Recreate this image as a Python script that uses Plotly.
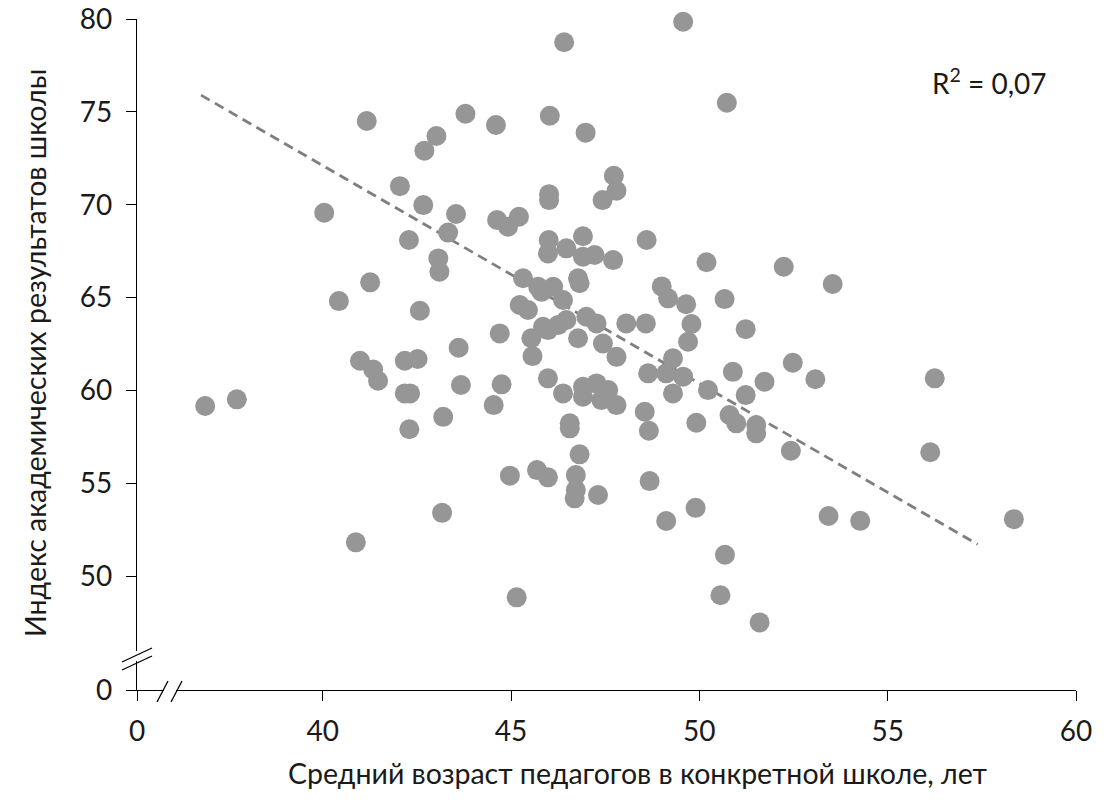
import plotly.graph_objects as go

# ---- data ----
age = [41.17, 42.05, 42.67, 40.04, 43.02, 42.70, 46.41, 43.79, 44.60, 46.03,
       46.98, 47.73, 47.80, 47.43, 46.01, 46.01, 43.54, 44.63, 45.21, 44.92,
       43.33, 49.57, 50.73,
       42.29, 41.26, 40.43, 42.58, 40.99, 41.34, 41.47, 42.18, 42.52, 42.18,
       42.32, 42.30, 36.88, 37.72, 40.88,
       43.07, 43.10, 46.00, 45.98, 46.47, 46.91, 46.91, 47.22, 47.71, 45.32,
       45.72, 45.81, 46.12, 46.38, 46.78, 46.82, 45.23, 45.45, 44.70, 45.85,
       45.98, 46.25, 46.47, 45.54, 45.57, 46.78, 47.00, 47.27, 47.44, 47.80,
       48.06, 43.61, 43.67, 44.75, 44.54, 43.20, 45.98, 46.38, 46.91, 46.91,
       47.27, 47.40, 47.58, 47.80, 46.56, 46.56,
       48.60, 50.19, 52.24, 49.00, 49.17, 49.65, 50.67, 49.79, 49.70, 51.23,
       48.58, 49.30, 48.64, 49.12, 49.57, 49.30, 50.23, 50.89, 51.73, 51.23,
       52.48, 53.08, 48.55, 48.66, 49.92, 50.80, 50.98, 51.51, 51.51, 52.43,
       53.54, 56.25, 56.13,
       46.82, 44.97, 45.69, 45.98, 46.72, 46.72, 46.69, 47.31, 43.17, 45.15,
       48.68, 49.90, 49.12, 50.68, 50.56, 51.60,
       53.43, 54.27, 58.35]

index = [74.51, 71.00, 69.98, 69.57, 73.70, 72.91, 78.75, 74.90, 74.29, 74.79,
         73.88, 71.56, 70.75, 70.25, 70.57, 70.25, 69.50, 69.18, 69.35, 68.82,
         68.50, 79.85, 75.49,
         68.10, 65.82, 64.81, 64.29, 61.60, 61.13, 60.52, 61.60, 61.69, 59.84,
         59.84, 57.91, 59.16, 59.52, 51.82,
         67.11, 66.39, 68.10, 67.38, 67.65, 68.30, 67.20, 67.29, 67.02, 66.04,
         65.58, 65.31, 65.58, 64.87, 66.04, 65.77, 64.60, 64.33, 63.07, 63.43,
         63.25, 63.52, 63.79, 62.81, 61.85, 62.81, 63.97, 63.61, 62.53, 61.81,
         63.61, 62.30, 60.29, 60.33, 59.21, 58.58, 60.65, 59.84, 60.20, 59.66,
         60.38, 59.48, 60.02, 59.21, 58.23, 57.96,
         68.10, 66.90, 66.66, 65.60, 64.96, 64.64, 64.92, 63.58, 62.62, 63.30,
         63.61, 61.73, 60.92, 60.92, 60.74, 59.84, 60.02, 61.00, 60.47, 59.75,
         61.49, 60.60, 58.85, 57.83, 58.26, 58.68, 58.23, 58.14, 57.69, 56.75,
         65.73, 60.65, 56.67,
         56.56, 55.41, 55.71, 55.32, 55.44, 54.64, 54.19, 54.37, 53.41, 48.86,
         55.12, 53.68, 52.97, 51.15, 48.97, 47.51,
         53.24, 52.98, 53.07]

trend_age = [36.77, 57.39]
trend_index = [75.90, 51.71]

x_tickvals = [35.07, 40, 45, 50, 55, 60]
x_ticktext = ["0", "40", "45", "50", "55", "60"]
y_tickvals = [43.87, 50, 55, 60, 65, 70, 75, 80]
y_ticktext = ["0", "50", "55", "60", "65", "70", "75", "80"]

r2_text = "R<sup>2</sup> = 0,07"
x_title = "Средний возраст педагогов в конкретной школе, лет"
y_title = "Индекс академических результатов школы"

# ---- layout geometry (page pixels; body margin removed in the page) ----
W, H = 1120, 805
PL, PR, PT, PB = 137, 1076, 19, 690          # plot area in page pixels
L, T = PL, PT
R, B = W - PR, H - PB

def px(x):
    return (x - PL) / (PR - PL)

def py(y):
    return (PB - y) / (PB - PT)

FONT = "Lato, 'Open Sans', sans-serif"
TXT = "#1a1a1a"
FS = 28

fig = go.Figure()
fig.add_trace(go.Scatter(
    x=trend_age, y=trend_index, mode="lines",
    line=dict(color="#7f7f7f", width=2.8, dash="10px,6px"),
    hoverinfo="skip", showlegend=False))
fig.add_trace(go.Scatter(
    x=age, y=index, mode="markers", cliponaxis=False,
    marker=dict(size=20, color="#969696", line=dict(width=0)),
    showlegend=False))

shapes = []
# gaps in axis lines
shapes.append(dict(type="rect", xref="paper", yref="paper",
                   x0=px(131), x1=px(143), y0=py(661), y1=py(651),
                   fillcolor="white", line=dict(width=0), layer="above"))
shapes.append(dict(type="rect", xref="paper", yref="paper",
                   x0=px(164), x1=px(176), y0=py(696), y1=py(684),
                   fillcolor="white", line=dict(width=0), layer="above"))
# break marks
for (x0, y0, x1, y1) in [(122, 662, 152, 648), (122, 670, 152, 656),
                         (157, 702, 168, 681), (171, 702, 182, 681)]:
    shapes.append(dict(type="line", xref="paper", yref="paper",
                       x0=px(x0), y0=py(y0), x1=px(x1), y1=py(y1),
                       line=dict(color="black", width=1.3), layer="above"))

fig.update_layout(
    width=W, height=H,
    margin=dict(l=L, r=R, t=T, b=B, autoexpand=False),
    paper_bgcolor="white", plot_bgcolor="white",
    font=dict(family=FONT, size=FS, color=TXT),
    shapes=shapes,
    annotations=[
        dict(text=r2_text, xref="paper", yref="paper",
             x=px(989), y=py(82), xanchor="center", yanchor="middle",
             showarrow=False, font=dict(size=FS, color=TXT, family=FONT)),
        dict(text=x_title, xref="paper", yref="paper",
             x=px(637), y=py(773), xanchor="center", yanchor="middle",
             showarrow=False, font=dict(size=28.5, color=TXT, family=FONT)),
        dict(text=y_title, xref="paper", yref="paper",
             x=px(35), y=py(353), xanchor="center", yanchor="middle",
             showarrow=False, textangle=-90,
             font=dict(size=28.5, color=TXT, family=FONT)),
    ],
    xaxis=dict(range=[35.07, 60], tickmode="array", tickvals=x_tickvals,
               ticktext=x_ticktext, showgrid=False, zeroline=False,
               showline=True, linecolor="black", linewidth=1.3,
               ticks="outside", ticklen=10, tickcolor="black", tickwidth=1.3,
               ticklabelstandoff=6, ticklabeloverflow="allow",
               tickfont=dict(size=FS, color=TXT, family=FONT)),
    yaxis=dict(range=[43.87, 80], tickmode="array", tickvals=y_tickvals,
               ticktext=y_ticktext, showgrid=False, zeroline=False,
               showline=True, linecolor="black", linewidth=1.3,
               ticks="outside", ticklen=10, tickcolor="black", tickwidth=1.3,
               ticklabelstandoff=8, ticklabeloverflow="allow",
               tickfont=dict(size=FS, color=TXT, family=FONT)),
)

fig.write_html("out.html",
               config={"displayModeBar": False},
               post_script="document.body.style.margin='0px';")
